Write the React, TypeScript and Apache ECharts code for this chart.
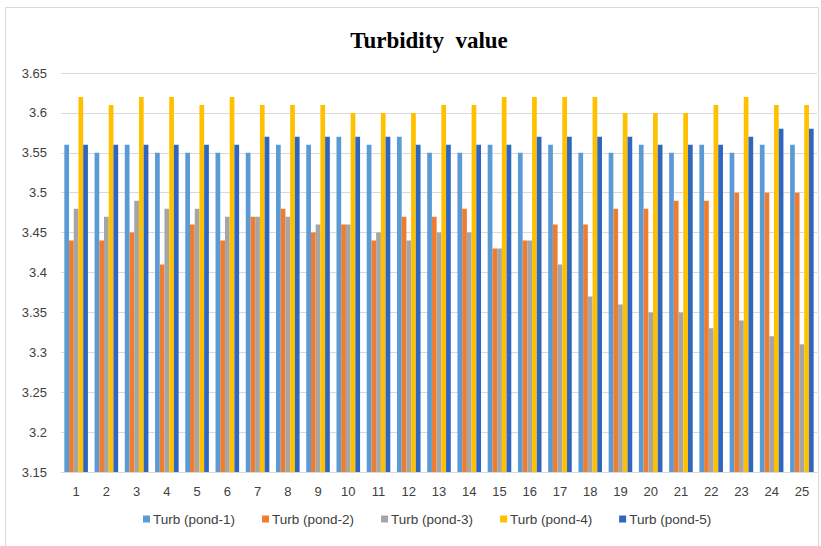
import React, { useEffect, useRef } from "react";
import * as echarts from "echarts";

const categories = Array.from({ length: 25 }, (_, i) => String(i + 1));
const seriesNames = ["Turb (pond-1)", "Turb (pond-2)", "Turb (pond-3)", "Turb (pond-4)", "Turb (pond-5)"];
const pond1 = [3.56, 3.55, 3.56, 3.55, 3.55, 3.55, 3.55, 3.56, 3.56, 3.57, 3.56, 3.57, 3.55, 3.55, 3.56, 3.55, 3.56, 3.55, 3.55, 3.56, 3.55, 3.56, 3.55, 3.56, 3.56];
const pond2 = [3.44, 3.44, 3.45, 3.41, 3.46, 3.44, 3.47, 3.48, 3.45, 3.46, 3.44, 3.47, 3.47, 3.48, 3.43, 3.44, 3.46, 3.46, 3.48, 3.48, 3.49, 3.49, 3.5, 3.5, 3.5];
const pond3 = [3.48, 3.47, 3.49, 3.48, 3.48, 3.47, 3.47, 3.47, 3.46, 3.46, 3.45, 3.44, 3.45, 3.45, 3.43, 3.44, 3.41, 3.37, 3.36, 3.35, 3.35, 3.33, 3.34, 3.32, 3.31];
const pond4 = [3.62, 3.61, 3.62, 3.62, 3.61, 3.62, 3.61, 3.61, 3.61, 3.6, 3.6, 3.6, 3.61, 3.61, 3.62, 3.62, 3.62, 3.62, 3.6, 3.6, 3.6, 3.61, 3.62, 3.61, 3.61];
const pond5 = [3.56, 3.56, 3.56, 3.56, 3.56, 3.56, 3.57, 3.57, 3.57, 3.57, 3.57, 3.56, 3.56, 3.56, 3.56, 3.57, 3.57, 3.57, 3.57, 3.56, 3.56, 3.56, 3.57, 3.58, 3.58];
const seriesData = [pond1, pond2, pond3, pond4, pond5];
const colors = ["#5B9BD5", "#ED7D31", "#A5A5A5", "#FFC000", "#2F66BF"];

export default function App() {
  const ref = useRef<HTMLDivElement>(null);
  useEffect(() => {
    if (!ref.current) return;
    const chart = echarts.init(ref.current, null, { renderer: "svg" });
    chart.setOption({
      animation: false,
      backgroundColor: "#ffffff",
      title: {
        text: "Turbidity  value",
        left: 424,
        textAlign: "center",
        top: 24,
        textStyle: {
          fontFamily: "Liberation Serif",
          fontWeight: "bold",
          fontSize: 23,
          color: "#000000",
        },
      },
      graphic: [
        {
          type: "rect",
          shape: { x: 5.5, y: 7.5, width: 813, height: 545 },
          style: { fill: "none", stroke: "#d9d9d9", lineWidth: 1 },
          silent: true,
        },
      ],
      legend: {
        bottom: 15,
        left: 138,
        padding: 5,
        itemWidth: 7,
        itemHeight: 7,
        itemGap: 27,
        icon: "rect",
        textStyle: { fontFamily: "Liberation Sans", fontSize: 13.5, color: "#404040", padding: [0, 0, 0, -2] },
        data: seriesNames,
      },
      grid: { left: 61, right: 4, top: 73, bottom: 74 },
      xAxis: {
        type: "category",
        data: categories,
        axisLine: { lineStyle: { color: "#d9d9d9" } },
        axisTick: { show: false },
        axisLabel: { fontFamily: "Liberation Sans", fontSize: 13, color: "#404040", margin: 13 },
      },
      yAxis: {
        type: "value",
        min: 3.15,
        max: 3.65,
        interval: 0.05,
        axisLine: { show: false },
        axisTick: { show: false },
        splitLine: { lineStyle: { color: "#d9d9d9" } },
        axisLabel: {
          fontFamily: "Liberation Sans",
          fontSize: 13,
          color: "#404040",
          margin: 14,
          formatter: (v: number) => String(parseFloat(v.toFixed(2))),
        },
      },
      series: seriesNames.map((name, i) => ({
        name,
        type: "bar",
        data: seriesData[i],
        barGap: "0%",
        barCategoryGap: "22%",
        itemStyle: { color: colors[i] },
      })),
    });
    return () => chart.dispose();
  }, []);
  return <div ref={ref} style={{ width: 821, height: 546, position: "absolute", left: 0, top: 0 }} />;
}
